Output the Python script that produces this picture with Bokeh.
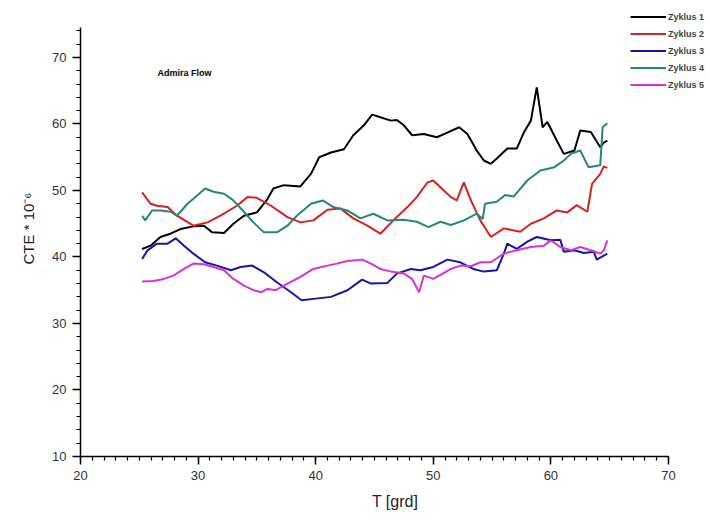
from bokeh.plotting import figure
from bokeh.models import Range1d, Legend, LegendItem, Label, FixedTicker
from bokeh.embed import file_html
from bokeh.resources import INLINE

# ---- data ----
t1 = [25.24,25.95,26.8,27.65,28.5,29.6,30.5,31.2,32.2,33.0,33.9,35.0,35.9,36.4,37.3,38.7,39.6,40.3,41.3,42.4,43.2,44.1,44.8,45.5,46.4,46.9,47.5,48.2,49.2,50.3,51.2,52.2,52.9,53.7,54.3,54.9,55.4,56.3,57.1,57.7,58.3,58.8,59.3,59.7,60.5,61.1,62.0,62.5,63.4,64.2,64.5,64.8]
z1 = [41.2,41.7,43.0,43.5,44.2,44.6,44.7,43.7,43.6,45.0,46.2,46.7,48.7,50.3,50.8,50.6,52.5,55.0,55.7,56.2,58.3,59.8,61.4,61.0,60.5,60.6,59.8,58.3,58.5,58.0,58.7,59.5,58.5,56.0,54.5,54.0,54.8,56.3,56.3,58.7,60.5,65.5,59.5,60.3,57.5,55.5,56.0,59.0,58.8,56.5,57.2,57.5]

t2 = [25.24,25.95,26.5,27.4,28.2,29.6,30.8,31.9,33.3,34.2,35.0,36.2,37.6,38.7,39.8,41.0,42.1,43.2,44.4,45.5,46.6,47.8,48.6,49.5,50.0,50.9,51.5,52.0,52.6,53.2,54.0,54.9,56.0,57.4,58.3,59.4,60.5,61.4,62.2,63.1,63.5,64.2,64.5,64.8]
z2 = [49.7,48.0,47.7,47.5,46.2,44.7,45.2,46.2,47.7,49.0,48.9,47.7,46.0,45.2,45.5,47.1,47.3,45.8,44.7,43.5,45.5,47.5,49.0,51.2,51.5,50.0,49.0,48.5,51.2,48.5,45.5,43.0,44.3,43.8,45.0,45.8,47.0,46.7,47.8,46.8,51.0,52.5,53.6,53.4]

t3 = [25.24,25.7,26.5,27.4,28.1,28.8,29.6,30.6,31.6,32.8,33.6,34.6,35.6,36.7,37.9,38.8,39.8,41.3,42.7,43.95,44.7,46.1,46.9,48.1,48.9,50.0,51.2,52.3,53.4,54.3,55.4,56.0,56.3,57.1,58.0,58.8,60.0,60.8,61.1,62.0,62.8,63.65,63.9,64.5,64.8]
z3 = [39.7,41.0,42.0,42.0,42.8,41.7,40.5,39.2,38.7,38.0,38.5,38.7,37.7,36.2,34.7,33.5,33.7,34.0,35.0,36.6,36.0,36.1,37.5,38.2,38.0,38.5,39.6,39.2,38.2,37.8,38.0,40.5,42.0,41.2,42.3,43.0,42.5,42.6,40.8,41.0,40.6,40.8,39.6,40.2,40.5]

t4 = [25.24,25.5,26.1,26.8,27.65,28.2,29.1,29.9,30.6,31.3,32.2,33.0,33.9,34.7,35.6,36.7,37.6,38.4,39.6,40.6,41.5,42.7,43.8,44.9,46.1,47.5,48.6,49.6,50.6,51.5,52.6,53.7,54.2,54.4,55.4,56.1,56.85,58.0,59.1,60.3,61.1,61.7,62.5,63.2,64.2,64.4,64.8]
z4 = [46.2,45.5,47.0,47.0,46.8,46.2,48.0,49.2,50.3,49.8,49.5,48.5,46.8,45.2,43.7,43.7,44.7,46.2,48.0,48.5,47.5,47.0,45.8,46.5,45.5,45.6,45.3,44.5,45.3,44.8,45.5,46.5,45.7,48.0,48.3,49.3,49.1,51.5,53.0,53.5,54.5,55.5,56.0,53.5,53.8,59.5,60.1]

t5 = [25.24,26.2,27.1,27.9,28.8,29.6,30.5,31.3,32.2,33.0,33.9,34.7,35.4,35.9,36.6,37.6,38.7,39.8,41.0,41.8,42.7,43.95,44.7,45.5,46.4,47.5,48.2,48.8,49.2,50.0,50.8,51.5,52.3,53.2,54.0,54.9,56.0,57.1,58.3,59.4,60.0,60.8,61.7,62.5,63.4,64.2,64.5,64.8]
z5 = [36.3,36.4,36.7,37.2,38.2,39.0,38.9,38.5,38.0,36.7,35.7,35.0,34.7,35.2,35.0,36.0,37.0,38.2,38.7,39.0,39.4,39.6,39.0,38.2,37.8,37.5,36.7,34.7,37.2,36.7,37.5,38.2,38.7,38.6,39.2,39.2,40.5,41.0,41.5,41.7,42.5,41.5,41.0,41.5,41.0,40.5,41.0,42.5]

series_names = ["Zyklus 1", "Zyklus 2", "Zyklus 3", "Zyklus 4", "Zyklus 5"]
series_colors = ["#000000", "#d42222", "#1414a8", "#23887c", "#d633d6"]
x_ticks = [20, 30, 40, 50, 60, 70]
y_ticks = [10, 20, 30, 40, 50, 60, 70]

FONT = "Liberation Sans"

# frame spans to the right/top window edges so the legend is not clipped;
# axis bounds keep the axis lines at 20..70 and 10..74.5
p = figure(width=709, height=521, output_backend="svg", toolbar_location=None,
           x_range=Range1d(20, 73.49), y_range=Range1d(10, 78.56),
           min_border_left=80, min_border_right=0, min_border_top=0, min_border_bottom=65)
p.outline_line_color = None
p.xgrid.grid_line_color = None
p.ygrid.grid_line_color = None
p.background_fill_color = "white"
p.border_fill_color = "white"

items = []
for t, z, name, col in zip([t1, t2, t3, t4, t5], [z1, z2, z3, z4, z5], series_names, series_colors):
    r = p.line(t, z, line_color=col, line_width=2)
    items.append(LegendItem(label=name, renderers=[r]))

for ax in (p.xaxis[0], p.yaxis[0]):
    ax.axis_line_width = 1.5
    ax.axis_line_color = "black"
    ax.major_tick_line_width = 1.5
    ax.minor_tick_line_width = 1.2
    ax.major_tick_line_color = "black"
    ax.minor_tick_line_color = "black"
    ax.major_tick_in = 0
    ax.minor_tick_in = 0
    ax.major_tick_out = 8
    ax.minor_tick_out = 4
    ax.major_label_text_font = FONT
    ax.major_label_text_font_size = "13px"
    ax.major_label_text_color = "#333333"
    ax.axis_label_text_font = FONT
    ax.axis_label_text_font_style = "normal"
    ax.axis_label_text_color = "#222222"

p.xaxis.bounds = (20, 70)
p.yaxis.bounds = (10, 74.5)
p.xaxis.ticker = FixedTicker(ticks=x_ticks, minor_ticks=list(range(20, 71)))
p.yaxis.ticker = FixedTicker(ticks=y_ticks, minor_ticks=list(range(10, 75, 2)))
p.xaxis.major_label_standoff = 6
p.yaxis.major_label_standoff = 6
p.xaxis.axis_label = "T [grd]"
p.yaxis.axis_label = "CTE * 10\u207b\u2076"
p.xaxis.axis_label_text_font_size = "16px"
p.yaxis.axis_label_text_font_size = "15px"
p.xaxis.axis_label_standoff = 10
p.yaxis.axis_label_standoff = 12

legend = Legend(items=items, location=(550, 364))
legend.border_line_alpha = 0
legend.background_fill_alpha = 0
legend.label_text_font = FONT
legend.label_text_font_style = "bold"
legend.label_text_font_size = "9px"
legend.glyph_width = 36
legend.glyph_height = 15
legend.label_height = 15
legend.label_standoff = 2
legend.spacing = 2
legend.padding = 0
legend.margin = 0
p.add_layout(legend, "center")

note = Label(x=77, y=384, x_units="screen", y_units="screen", text="Admira Flow",
             text_font=FONT, text_font_style="bold", text_font_size="9px",
             text_color="black", text_baseline="middle")
p.add_layout(note)

open("out.html", "w").write(file_html(p, INLINE))
